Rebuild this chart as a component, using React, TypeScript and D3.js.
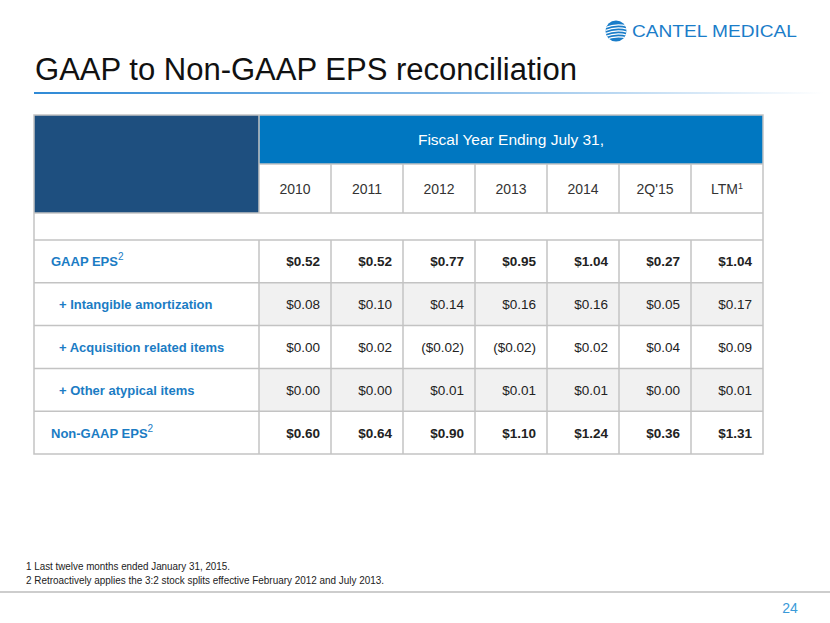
import React from "react";
import * as d3 from "d3";

const years = ["2010", "2011", "2012", "2013", "2014", "2Q'15", "LTM"];
const yearSup = ["", "", "", "", "", "", "1"];
const rowLabels = [
  "GAAP EPS",
  "+ Intangible amortization",
  "+ Acquisition related items",
  "+ Other atypical items",
  "Non-GAAP EPS",
];
const rowSup = ["2", "", "", "", "2"];
const gaapEps = [0.52, 0.52, 0.77, 0.95, 1.04, 0.27, 1.04];
const intangible = [0.08, 0.1, 0.14, 0.16, 0.16, 0.05, 0.17];
const acquisition = [0.0, 0.02, -0.02, -0.02, 0.02, 0.04, 0.09];
const otherItems = [0.0, 0.0, 0.01, 0.01, 0.01, 0.0, 0.01];
const nonGaapEps = [0.6, 0.64, 0.9, 1.1, 1.24, 0.36, 1.31];
const seriesRows = [gaapEps, intangible, acquisition, otherItems, nonGaapEps];
const headerText = "Fiscal Year Ending July 31,";
const title = "GAAP to Non-GAAP EPS reconciliation";
const footnotes = [
  "1 Last twelve months ended January 31, 2015.",
  "2 Retroactively applies the 3:2 stock splits effective February 2012 and July 2013.",
];
const footnoteWidths = [204, 358];
const pageNumber = "24";

const W = 830;
const H = 623;
const FONT = "'Liberation Sans', Arial, sans-serif";
const GRID = "#c3c3c3";
const LABEL_BLUE = "#1b7cc4";

const fmt = d3.format("$.2f");
const money = (v: number) => (v < 0 ? `(${fmt(-v)})` : fmt(v));

export default function App() {
  const left = 34;
  const right = 763;
  const labelRight = 259;
  const top = 115;
  const headerBottom = 164;
  const yearBottom = 213;
  const gapBottom = 240;
  const bottom = 454;

  const x = d3.scaleBand<string>().domain(years).range([labelRight, right]);
  const y = d3.scaleBand<string>().domain(rowLabels).range([gapBottom, bottom]);

  return (
    <svg width={W} height={H} style={{ position: "absolute", left: 0, top: 0, background: "#fff" }}>
      <defs>
        <linearGradient id="titleLine" x1="0" x2="1" y1="0" y2="0">
          <stop offset="0" stopColor="#2f8ad6" />
          <stop offset="0.5" stopColor="#7fb6e6" />
          <stop offset="1" stopColor="#ffffff" />
        </linearGradient>
        <clipPath id="logoClip">
          <circle cx={616} cy={31} r={10.5} />
        </clipPath>
      </defs>
      <rect width={W} height={H} fill="#fff" />

      {/* Logo */}
      <g>
        <circle cx={616} cy={31} r={10.5} fill="#1a7dc9" />
        <g clipPath="url(#logoClip)" stroke="#fff" strokeWidth={1.3} fill="none">
          {[-5, -2, 1, 4, 7].map((d, i) => (
            <path key={i} d={`M602,${31 + d + 3} Q616,${31 + d - 4} 630,${31 + d + 1}`} />
          ))}
        </g>
        <text x={632} y={37} fontFamily={FONT} fontSize={16} fill="#1a7dc9" textLength={165} lengthAdjust="spacingAndGlyphs">
          CANTEL MEDICAL
        </text>
      </g>

      {/* Title */}
      <text x={35} y={80} fontFamily={FONT} fontSize={31} fill="#111" textLength={542} lengthAdjust="spacingAndGlyphs">
        {title}
      </text>
      <rect x={34} y={92} width={790} height={2} fill="url(#titleLine)" />

      {/* Header cells */}
      <rect x={left} y={top} width={labelRight - left} height={yearBottom - top} fill="#1e4f7f" />
      <rect x={labelRight} y={top} width={right - labelRight} height={headerBottom - top} fill="#0077c1" />
      <text x={(labelRight + right) / 2} y={(top + headerBottom) / 2 + 5} textAnchor="middle" fontFamily={FONT} fontSize={15.5} fill="#fff">
        {headerText}
      </text>

      {/* Shaded rows */}
      {seriesRows.map((vals, i) =>
        i % 2 === 1 ? (
          <rect key={i} x={labelRight} y={y(rowLabels[i])!} width={right - labelRight} height={y.bandwidth()} fill="#f1f1f1" />
        ) : null
      )}

      {/* Year labels */}
      {years.map((yr, i) => (
        <text key={yr} x={x(yr)! + x.bandwidth() / 2} y={(headerBottom + yearBottom) / 2 + 5} textAnchor="middle" fontFamily={FONT} fontSize={14} fill="#333">
          {yr}
          {yearSup[i] ? (
            <tspan fontSize={9} dy={-5}>{yearSup[i]}</tspan>
          ) : null}
        </text>
      ))}

      {/* Row labels and values */}
      {rowLabels.map((lab, i) => {
        const cy = y(lab)! + y.bandwidth() / 2 + 5;
        const isTotal = i === 0 || i === 4;
        return (
          <g key={lab}>
            <text x={isTotal ? 51 : 59} y={cy} fontFamily={FONT} fontSize={13} fontWeight={700} fill={LABEL_BLUE}>
              {lab}
              {rowSup[i] ? (
                <tspan fontSize={10} fontWeight={400} dy={-6}>{rowSup[i]}</tspan>
              ) : null}
            </text>
            {seriesRows[i].map((v, j) => (
              <text key={j} x={x(years[j])! + x.bandwidth() - 11} y={cy} textAnchor="end" fontFamily={FONT} fontSize={13.5} fontWeight={isTotal ? 700 : 400} fill="#222">
                {money(v)}
              </text>
            ))}
          </g>
        );
      })}

      {/* Grid lines */}
      <g stroke={GRID} strokeWidth={1.5} fill="none">
        <rect x={left} y={top} width={right - left} height={bottom - top} />
        <line x1={labelRight} x2={right} y1={headerBottom} y2={headerBottom} />
        <line x1={left} x2={right} y1={yearBottom} y2={yearBottom} />
        <line x1={left} x2={right} y1={gapBottom} y2={gapBottom} />
        {rowLabels.slice(1).map((lab) => (
          <line key={lab} x1={left} x2={right} y1={y(lab)!} y2={y(lab)!} />
        ))}
        <line x1={labelRight} x2={labelRight} y1={top} y2={yearBottom} />
        <line x1={labelRight} x2={labelRight} y1={gapBottom} y2={bottom} />
        {years.slice(1).map((yr) => (
          <g key={yr}>
            <line x1={x(yr)!} x2={x(yr)!} y1={headerBottom} y2={yearBottom} />
            <line x1={x(yr)!} x2={x(yr)!} y1={gapBottom} y2={bottom} />
          </g>
        ))}
      </g>

      {/* Footnotes */}
      {footnotes.map((f, i) => (
        <text key={i} x={26} y={570 + i * 14} fontFamily={FONT} fontSize={11.5} fill="#222" textLength={footnoteWidths[i]} lengthAdjust="spacingAndGlyphs">
          {f}
        </text>
      ))}
      <line x1={0} x2={W} y1={592} y2={592} stroke="#bdbdbd" strokeWidth={1.5} />
      <text x={790} y={613} textAnchor="middle" fontFamily={FONT} fontSize={14} fill="#3a9ad9">
        {pageNumber}
      </text>
    </svg>
  );
}
